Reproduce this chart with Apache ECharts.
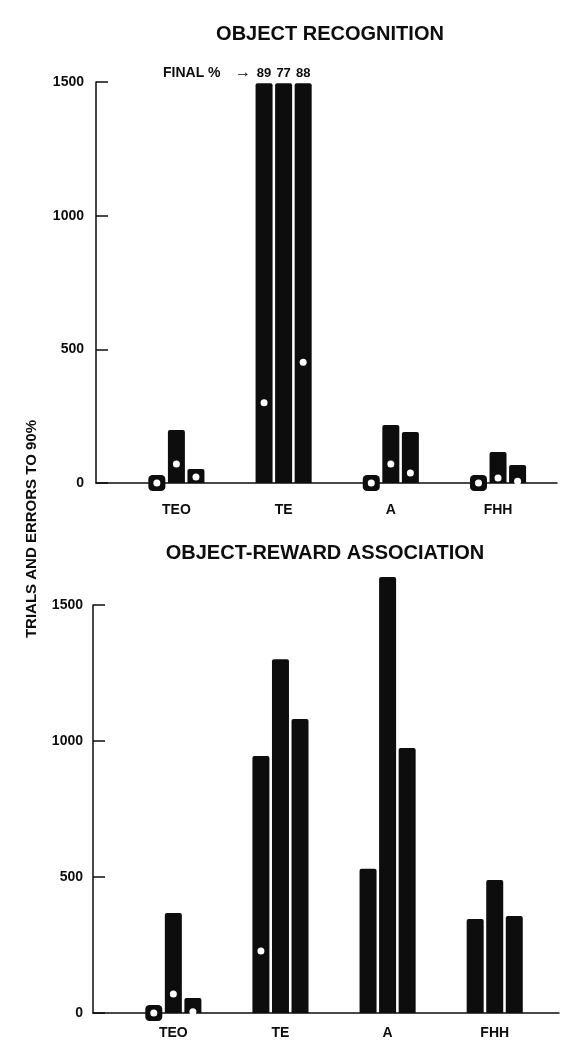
<!DOCTYPE html>
<html>
<head>
<meta charset="utf-8">
<script src="https://cdn.jsdelivr.net/npm/echarts@6/dist/echarts.min.js"></script>
<style>
  html, body { margin: 0; padding: 0; background: #fff; }
  #main { width: 579px; height: 1064px; }
</style>
</head>
<body>
<div id="main"></div>
<script>
// lesion groups on the x axis
var groups = ["TEO", "TE", "A", "FHH"];
var yTicks = [0, 500, 1000, 1500];

// object recognition: trials per monkey (1st, 2nd, 3rd bar of each group)
var recogM1 = [0, 1495, 0, 0];
var recogM2 = [198, 1495, 217, 116];
var recogM3 = [52, 1495, 191, 67];
// errors (white dots)
var recogErrM1 = [0, 300, 0, 0];
var recogErrM2 = [71, null, 71, 19];
var recogErrM3 = [22, 452, 37, 7];
// final % for the TE monkeys that never reached criterion
var recogFinalPct = [89, 77, 88];

// object-reward association
var assocM1 = [0, 945, 530, 346];
var assocM2 = [368, 1301, 1603, 489];
var assocM3 = [55, 1081, 974, 357];
var assocErrM1 = [0, 228, null, null];
var assocErrM2 = [70, null, null, null];
var assocErrM3 = [5, null, null, null];

var INK = "#0d0d0d";
var FONT = "Liberation Sans";
var BAR_W = 17;
var BAR_GAP = 15; // percent of bar width
var STEP = BAR_W * (1 + BAR_GAP / 100);

function groupLabel(v) {
  var k = Math.round(v);
  if (Math.abs(v - k) < 1e-6 && k >= 0 && k < groups.length) return groups[k];
  return "";
}

function panelSeries(p, trials, errors, pct) {
  var out = [];
  trials.forEach(function (vals, m) {
    out.push({
      type: "bar",
      xAxisIndex: p,
      yAxisIndex: p,
      barWidth: BAR_W,
      barGap: BAR_GAP + "%",
      clip: false,
      z: 2,
      itemStyle: { color: INK, borderRadius: [2, 2, 0, 0] },
      label: {
        position: "top",
        distance: 3,
        color: INK,
        fontSize: 13,
        fontWeight: "bold",
        fontFamily: FONT
      },
      data: vals.map(function (v, k) {
        var item = { value: [k, v] };
        if (pct && groups[k] === "TE") {
          item.label = { show: true, formatter: String(pct[m]) };
        }
        return item;
      })
    });
  });
  // black square where a monkey needed no trials
  trials.forEach(function (vals, m) {
    out.push({
      type: "scatter",
      xAxisIndex: p,
      yAxisIndex: p,
      symbol: "roundRect",
      symbolSize: [BAR_W, 16],
      symbolOffset: [(m - 1) * STEP, 0],
      itemStyle: { color: INK, opacity: 1 },
      z: 3,
      silent: true,
      data: vals.map(function (v, k) { return v === 0 ? [k, 0] : null; })
        .filter(function (d) { return d; })
    });
  });
  // errors
  errors.forEach(function (vals, m) {
    out.push({
      type: "scatter",
      xAxisIndex: p,
      yAxisIndex: p,
      symbol: "circle",
      symbolSize: 7,
      symbolOffset: [(m - 1) * STEP, 0],
      itemStyle: { color: "#fff", opacity: 1 },
      z: 4,
      silent: true,
      data: vals.map(function (v, k) { return v == null ? null : [k, v]; })
        .filter(function (d) { return d; })
    });
  });
  return out;
}

function xAxisFor(p, max, margin) {
  return {
    type: "value",
    gridIndex: p,
    min: -0.75,
    max: max,
    interval: 0.25,
    axisLine: { show: true, onZero: false, lineStyle: { color: INK, width: 1.5 } },
    axisTick: { show: false },
    splitLine: { show: false },
    axisLabel: {
      margin: margin,
      color: INK,
      fontSize: 14,
      fontWeight: "bold",
      fontFamily: FONT,
      formatter: groupLabel
    }
  };
}

function yAxisFor(p, margin) {
  return {
    type: "value",
    gridIndex: p,
    min: yTicks[0],
    max: yTicks[yTicks.length - 1],
    interval: yTicks[1] - yTicks[0],
    axisLine: { show: true, onZero: false, lineStyle: { color: INK, width: 1.5 } },
    axisTick: { show: true, inside: true, length: 12, lineStyle: { color: INK, width: 1.5 } },
    splitLine: { show: false },
    axisLabel: {
      margin: margin,
      color: INK,
      fontSize: 14,
      fontWeight: "bold",
      fontFamily: FONT,
      formatter: function (v) { return String(v); }
    }
  };
}

function textEl(txt, x, y, size, extra) {
  var el = {
    type: "text",
    x: x,
    y: y,
    style: {
      text: txt,
      font: "bold " + size + "px \"" + FONT + "\"",
      fill: INK,
      align: "center",
      verticalAlign: "middle",
      textAlign: "center",
      textVerticalAlign: "middle"
    }
  };
  if (extra) {
    Object.keys(extra).forEach(function (key) {
      if (key === "style") Object.assign(el.style, extra.style);
      else el[key] = extra[key];
    });
  }
  return el;
}

var chart = echarts.init(document.getElementById("main"), null, { renderer: "canvas" });

var option = {
  backgroundColor: "#fff",
  animation: false,
  textStyle: { fontFamily: FONT },
  grid: [
    { left: 96, top: 82, width: 461, height: 401, outerBoundsMode: "none" },
    { left: 93, top: 605, width: 466, height: 408, outerBoundsMode: "none" }
  ],
  xAxis: [xAxisFor(0, 3.55, 20), xAxisFor(1, 3.6, 13)],
  yAxis: [yAxisFor(0, 12), yAxisFor(1, 10)],
  graphic: [
    textEl("OBJECT RECOGNITION", 330, 34, 20),
    textEl("OBJECT-REWARD ASSOCIATION", 325, 553, 20),
    textEl("FINAL %", 163, 73, 14, { style: { align: "left", textAlign: "left" } }),
    textEl("\u2192", 243, 73, 16),
    textEl("TRIALS AND ERRORS TO 90%", 32, 529, 15, { rotation: Math.PI / 2 })
  ],
  series: [].concat(
    panelSeries(0, [recogM1, recogM2, recogM3], [recogErrM1, recogErrM2, recogErrM3], recogFinalPct),
    panelSeries(1, [assocM1, assocM2, assocM3], [assocErrM1, assocErrM2, assocErrM3], null)
  )
};

chart.setOption(option);
</script>
</body>
</html>
